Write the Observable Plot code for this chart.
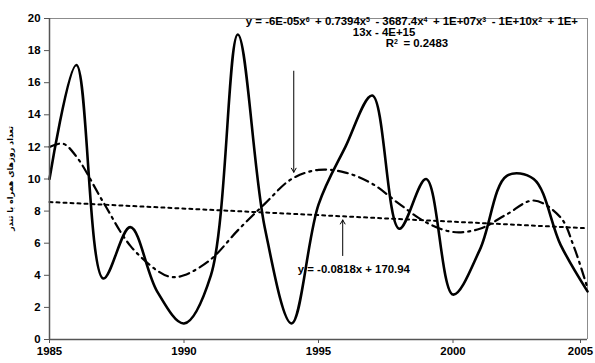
<!DOCTYPE html>
<html>
<head>
<meta charset="utf-8">
<script src="https://cdn.jsdelivr.net/npm/d3@7"></script>
<script src="https://cdn.jsdelivr.net/npm/@observablehq/plot@0.6"></script>
<style>
  html, body { margin: 0; padding: 0; background: #fff; }
  #chart { width: 595px; height: 363px; overflow: hidden; }
</style>
</head>
<body>
<div id="chart"></div>
<script>
// Years of record
const years = [1985, 1986, 1987, 1988, 1989, 1990, 1991, 1992, 1993, 1994, 1995,
               1996, 1997, 1998, 1999, 2000, 2001, 2002, 2003, 2004, 2005];
// Annual number of thunderstorm days
const thunderDays = [10.0, 17.1, 3.8, 7.0, 3.0, 1.0, 4.0, 19.0, 7.0, 1.0, 8.4,
                     12.0, 15.2, 6.9, 10.0, 2.8, 5.6, 10.2, 10.0, 5.9, 3.0];

// 6th-degree polynomial trend
const polyYears = [1985, 1985.5, 1986, 1987, 1988, 1989, 1989.5, 1990, 1991, 1992, 1993, 1994,
                   1995, 1996, 1997, 1998, 1999, 2000, 2001, 2002, 2003, 2004, 2004.5, 2005];
const polyValues = [12.0, 12.2, 11.4, 8.55, 5.85, 4.3, 3.9, 4.0, 5.0, 6.8, 8.45, 10.0,
                    10.57, 10.4, 9.7, 8.45, 7.3, 6.7, 6.9, 7.8, 8.66, 7.6, 5.75, 3.2];

// Linear trend y = a x + b
const linSlope = -0.0818;
const linIntercept = 170.94;
const linYears = [1985, 2005];

// Equation labels
const polyLabel = [
  "y = -6E-05x^6 + 0.7394x^5 - 3687.4x^4 + 1E+07x^3 - 1E+10x^2 + 1E+",
  "13x - 4E+15",
  "R^2 = 0.2483"
];
const linLabel = "y = -0.0818x + 170.94";
const yLabel = "تعداد روزهای همراه با تندر";
const xTicks = [1985, 1990, 1995, 2000, 2005];
const yTicks = [0, 2, 4, 6, 8, 10, 12, 14, 16, 18, 20];

const series = years.map((year, i) => ({year, value: thunderDays[i]}));
const poly = polyYears.map((year, i) => ({year, value: polyValues[i]}));
const lin = linYears.map(year => ({year, value: linSlope * year + linIntercept}));

const font = "'Liberation Sans', Arial, sans-serif";
const fs = 11.4;

const chart = Plot.plot({
  width: 595,
  height: 363,
  marginLeft: 49,
  marginRight: 8,
  marginTop: 18,
  marginBottom: 24,
  style: {fontFamily: font, fontSize: fs + "px", color: "#000", background: "#fff", overflow: "visible"},
  x: {domain: [1985, 2005], axis: null},
  y: {domain: [0, 20], axis: null},
  marks: [
    // plot frame: light top and right edges
    Plot.ruleY([20], {stroke: "#8c8c8c", strokeWidth: 1}),
    Plot.ruleX([2005], {stroke: "#8c8c8c", strokeWidth: 1}),
    // trend lines
    Plot.line(lin, {x: "year", y: "value", stroke: "#000", strokeWidth: 2, strokeDasharray: "3,4"}),
    Plot.line(poly, {x: "year", y: "value", curve: "catmull-rom", stroke: "#000", strokeWidth: 2.2, strokeDasharray: "10,5,2,5"}),
    // observed series
    Plot.line(series, {x: "year", y: "value", curve: "catmull-rom", stroke: "#000", strokeWidth: 2.6}),
    // axes
    Plot.ruleX([1985], {stroke: "#555", strokeWidth: 1.5}),
    Plot.ruleY([0], {stroke: "#555", strokeWidth: 1.5}),
    Plot.axisY(yTicks, {label: null, tickSize: 5, tickPadding: 4, stroke: "#555", fontFamily: font,
                        fontWeight: "bold", fontSize: fs, tickFormat: d => String(d)}),
    Plot.axisX(xTicks.slice(0, -1), {label: null, tickSize: 4, tickPadding: 3, stroke: "#555", fontFamily: font,
                        fontWeight: "bold", fontSize: fs, tickFormat: d => String(d)}),
    // last year label kept inside the page edge
    Plot.axisX(xTicks.slice(-1), {label: null, tickSize: 4, tickPadding: 3, stroke: "#555", fontFamily: font,
                        fontWeight: "bold", fontSize: fs, dx: -7, tickFormat: d => String(d)}),
    Plot.text([yLabel], {frameAnchor: "left", dx: -39, rotate: -90, fontSize: 8,
                         fontWeight: "bold", fontFamily: "'DejaVu Sans', sans-serif"}),
    // polynomial equation (three lines in one block) and pointer
    Plot.text([polyLabel.join("\n")], {x: 1992.3, y: 19.8, textAnchor: "start", lineAnchor: "middle",
                                       fontWeight: "bold", fontSize: fs, fontFamily: font}),
    Plot.arrow([0], {x1: 1994.08, y1: 16.72, x2: 1994.08, y2: 10.42, stroke: "#000", strokeWidth: 1, headLength: 7}),
    // linear equation and pointer
    Plot.text([linLabel], {x: 1994.23, y: 4.4, textAnchor: "start", fontWeight: "bold", fontSize: fs, fontFamily: font}),
    Plot.arrow([0], {x1: 1995.9, y1: 5.23, x2: 1995.9, y2: 7.45, stroke: "#000", strokeWidth: 1, headLength: 7})
  ]
});

// write a string into a node, turning "^n" into raised exponents
function withExponents(node, s) {
  s.split(/\^(\d)/).forEach((p, i) => {
    if (!p) return;
    if (i % 2 === 1) {
      node.append("tspan").attr("dy", -3.6).attr("font-size", 7).text(p);
      node.append("tspan").attr("dy", 3.6).text("\u2009");
    } else {
      node.append("tspan").text(p);
    }
  });
}

// polynomial equation block: line offsets (px) from the first line's start
const lineOffsets = [[0, 0], [107, 11], [140, 22]];
d3.select(chart).selectAll("text").each(function() {
  if (!this.textContent.startsWith("y = -6E")) return;
  const t = d3.select(this);
  t.selectAll("*").remove();
  t.text(null);
  polyLabel.forEach((line, i) => {
    const row = t.append("tspan").attr("x", lineOffsets[i][0]).attr("y", lineOffsets[i][1]).attr("dy", "0.32em");
    withExponents(row, line);
  });
});

document.getElementById("chart").append(chart);

// centre the rotated axis title on the frame's vertical middle
d3.select(chart).selectAll("text").each(function() {
  if (this.textContent !== yLabel) return;
  const b = this.getBBox();
  const cx = b.x + b.width / 2;
  const tr = this.getAttribute("transform") || "";
  this.setAttribute("transform", tr + ` translate(${-cx},0)`);
});
</script>
</body>
</html>
